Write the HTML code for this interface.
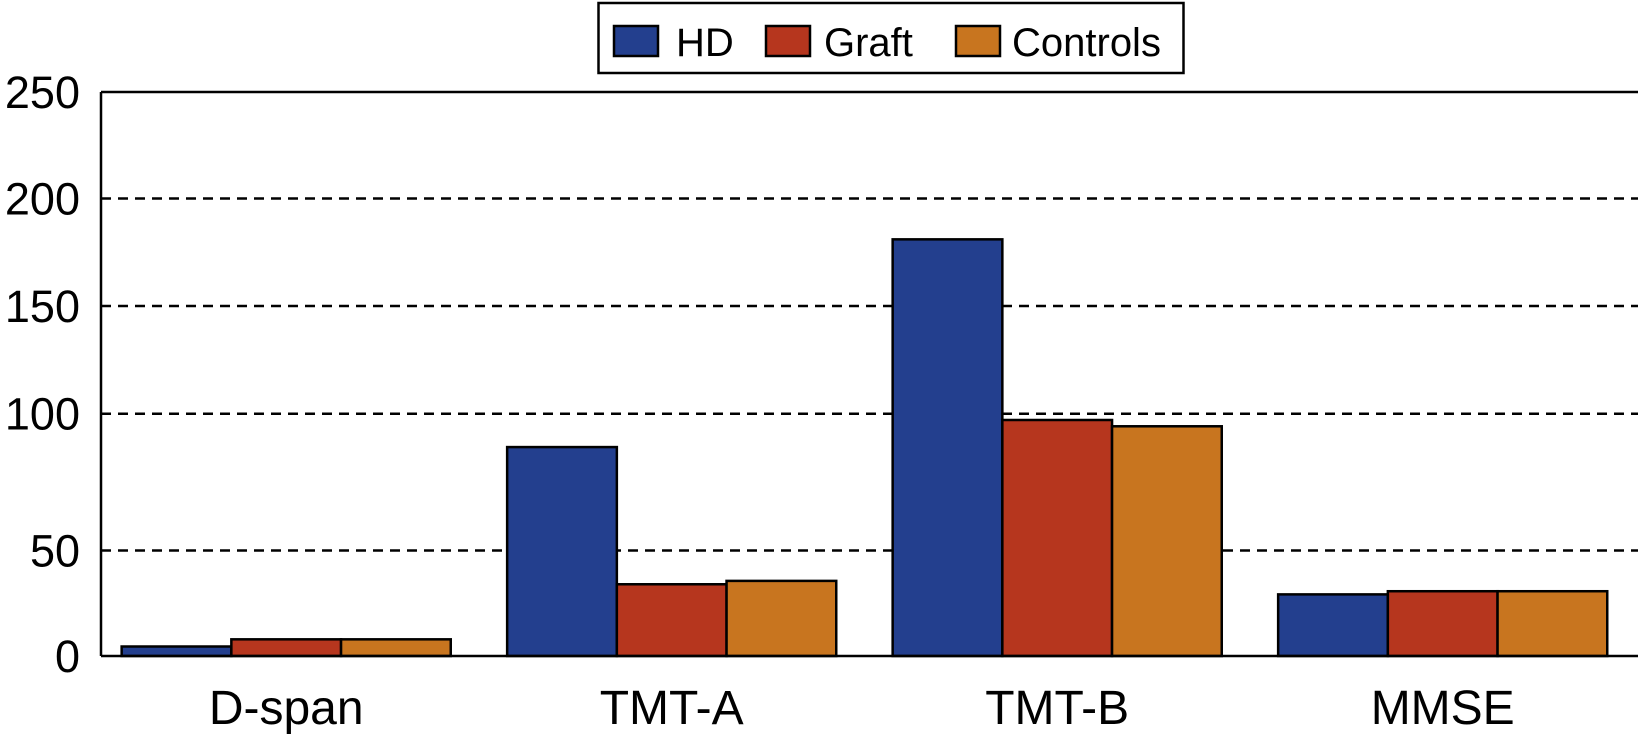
<!DOCTYPE html>
<html><head><meta charset="utf-8"><style>
html,body{margin:0;padding:0;background:#fff;}
svg{display:block;font-family:"Liberation Sans",Arial,sans-serif;}
</style></head><body>
<svg id="chart" width="1638" height="737" viewBox="0 0 1638 737" xmlns="http://www.w3.org/2000/svg">
<g id="grid"></g>
<g id="bars"></g>
<g id="axes"></g>
<g id="legend">
  <rect x="598.5" y="3" width="585" height="70" fill="#fff" stroke="#000" stroke-width="2.5"/>
</g>
</svg>
<script>
const categories = ["D-span","TMT-A","TMT-B","MMSE"];
const seriesNames = ["HD","Graft","Controls"];
const hdValues = [4.5, 87.8, 181, 29.2];
const graftValues = [7.9, 34, 97.7, 30.7];
const controlValues = [7.9, 35.6, 95.4, 30.7];
const tickValues = [0,50,100,150,200,250];
const tickLabels = ["0","50","100","150","200","250"];

const colors = ["#233f8e","#b6361e","#c8751f"];
const tickPix = [656,550.5,413.7,306,198.5,92];
function yScale(v){
  for(let i=0;i<tickValues.length-1;i++){
    if(v<=tickValues[i+1]||i===tickValues.length-2){
      const t=(v-tickValues[i])/(tickValues[i+1]-tickValues[i]);
      return tickPix[i]+t*(tickPix[i+1]-tickPix[i]);
    }
  }
}
const plotL=101, plotR=1638, bw=109.7;
function xCenter(i){return 286.2+i*385.5;}
const NS="http://www.w3.org/2000/svg";
function mk(tag,attrs,parent){const e=document.createElementNS(NS,tag);for(const k in attrs)e.setAttribute(k,attrs[k]);parent.appendChild(e);return e;}
const grid=document.getElementById('grid'),bars=document.getElementById('bars'),axes=document.getElementById('axes'),legend=document.getElementById('legend');
tickValues.forEach((v,i)=>{
  const y=yScale(v);
  if(v>0&&v<250){
    const l=mk('line',{x1:plotL,x2:plotR,y1:y,y2:y,stroke:'#000','stroke-width':2.5,'stroke-dasharray':'10,7'},grid);
    
    
  }
  const t=mk('text',{x:80,y:y+16,'text-anchor':'end','font-size':45,fill:'#000'},axes);
  t.textContent=tickLabels[i];
  
  
});
const all=[hdValues,graftValues,controlValues];
categories.forEach((c,i)=>{
  const cx=xCenter(i);
  all.forEach((vals,s)=>{
    const x=cx-1.5*bw+s*bw, y=yScale(vals[i]), y0=yScale(0);
    const r=mk('rect',{x:x,y:y,width:bw,height:y0-y,fill:colors[s],stroke:'#000','stroke-width':2.5},bars);
    
    
  });
  const t=mk('text',{x:cx,y:724,'text-anchor':'middle','font-size':48,fill:'#000'},axes);
  t.textContent=c;
  
  
});
const plotTop=yScale(250),plotBase=yScale(0);
const la=mk('line',{x1:plotL,x2:plotL,y1:plotTop,y2:plotBase,stroke:'#000','stroke-width':2.5},axes);


const lt=mk('line',{x1:plotL,x2:plotR,y1:plotTop,y2:plotTop,stroke:'#000','stroke-width':2.5},axes);


const lb=mk('line',{x1:plotL,x2:plotR,y1:plotBase,y2:plotBase,stroke:'#000','stroke-width':2.5},axes);


const swX=[614,766,956], txX=[676,824,1012];
seriesNames.forEach((n,s)=>{
  const r=mk('rect',{x:swX[s],y:26,width:44,height:30,fill:colors[s],stroke:'#000','stroke-width':2.5},legend);
  
  
  const t=mk('text',{x:txX[s],y:56,'font-size':40,fill:'#000'},legend);
  t.textContent=n;
  
  
});
</script>
</body></html>
